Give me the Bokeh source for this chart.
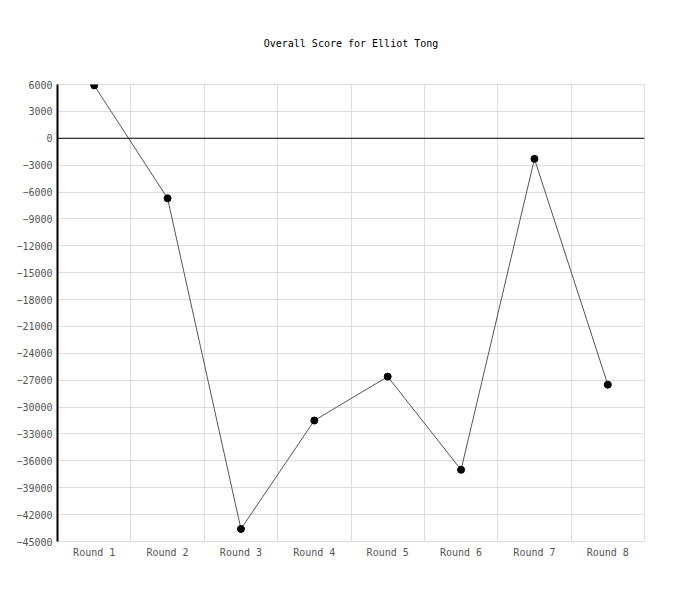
from bokeh.plotting import figure
from bokeh.models import FixedTicker, Span, Range1d, ColumnDataSource
from bokeh.embed import file_html
from bokeh.resources import INLINE

rounds = ["Round 1", "Round 2", "Round 3", "Round 4", "Round 5", "Round 6", "Round 7", "Round 8"]
scores = [5900, -6700, -43600, -31500, -26600, -37000, -2300, -27500]
y_ticks = list(range(-45000, 6001, 3000))

FONT = "DejaVu Sans Mono"

xpos = [i + 0.5 for i in range(len(rounds))]
src = ColumnDataSource(dict(x=xpos, y=scores, r=rounds))

p = figure(width=684, height=584, output_backend="svg", toolbar_location=None,
           x_range=Range1d(0, len(rounds)), y_range=Range1d(y_ticks[0], y_ticks[-1]),
           title="Overall Score for Elliot Tong",
           min_border_left=57, min_border_right=40, min_border_top=84, min_border_bottom=43)

p.title.align = "center"
p.title.text_font = FONT
p.title.text_font_size = "10px"
p.title.text_font_style = "normal"
p.title.text_color = "#000000"
p.title.standoff = 71

p.outline_line_color = "#dddddd"

p.xaxis.ticker = FixedTicker(ticks=xpos)
p.xaxis.major_label_overrides = {x: r for x, r in zip(xpos, rounds)}
p.xgrid.ticker = FixedTicker(ticks=list(range(len(rounds) + 1)))
p.yaxis.ticker = FixedTicker(ticks=y_ticks)
p.ygrid.ticker = FixedTicker(ticks=y_ticks)

for ax in (p.xaxis[0], p.yaxis[0]):
    ax.major_tick_line_color = None
    ax.minor_tick_line_color = None
    ax.major_tick_out = 0
    ax.major_tick_in = 0
    ax.minor_tick_out = 0
    ax.minor_tick_in = 0
    ax.major_label_text_font = FONT
    ax.major_label_text_font_size = "10px"
    ax.major_label_text_color = "#555555"
    ax.major_label_standoff = 5
p.xaxis.axis_line_color = None
p.yaxis.axis_line_color = "#000000"
p.yaxis.axis_line_width = 2

p.xgrid.grid_line_color = "#dddddd"
p.ygrid.grid_line_color = "#dddddd"

p.add_layout(Span(location=0, dimension="width", line_color="#000000", line_width=1.2))

p.line("x", "y", source=src, line_color="#555555", line_width=1)
p.scatter("x", "y", source=src, size=7, fill_color="#000000", line_color="#000000")

open("out.html", "w").write(file_html(p, INLINE))
